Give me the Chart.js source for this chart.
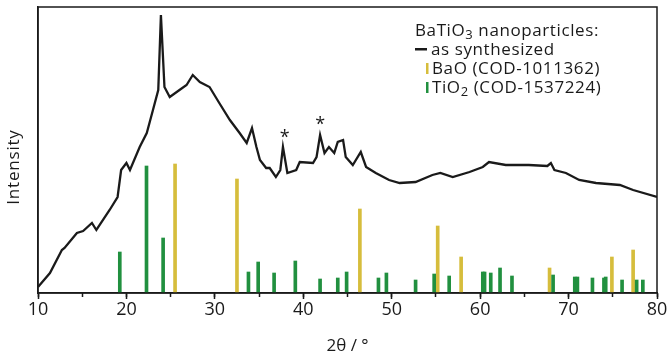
<!DOCTYPE html>
<html>
<head>
<meta charset="utf-8">
<script src="https://cdn.jsdelivr.net/npm/chart.js@4.4.0/dist/chart.umd.min.js"></script>
<style>
  html, body { margin: 0; padding: 0; background: #fff; }
  #wrap { width: 672px; height: 356px; position: relative; }
</style>
</head>
<body>
<div id="wrap"><canvas id="xrd"></canvas></div>
<script>
// measured pattern (2θ in degrees, intensity in arbitrary units)
const twoTheta = [10.0, 11.35, 12.7, 13.0, 14.4, 15.1, 16.1, 16.6, 18.1, 19.0, 19.4, 20.0, 20.4, 21.5, 22.3, 23.0, 23.6, 23.9, 24.3, 24.9,
  26.0, 26.8, 27.5, 28.3, 29.4, 30.5, 31.7, 32.8, 33.6, 34.2, 34.7, 35.1, 35.8, 36.2, 36.9, 37.4, 37.7, 38.2, 39.2, 39.6,
  41.1, 41.5, 41.9, 42.4, 42.9, 43.5, 43.9, 44.5, 44.8, 45.6, 46.5, 47.1, 48.2, 49.7, 50.9, 52.7, 54.6, 55.5, 56.9, 58.8,
  60.3, 61.0, 62.9, 65.5, 67.6, 68.0, 68.4, 69.7, 71.2, 73.1, 75.8, 77.3, 80.0];
const intensity = [6, 20, 43, 45, 60, 62, 70, 63, 83, 96, 123, 130, 123, 146, 160, 183, 203, 278, 206, 196,
  203, 208, 218, 211, 206, 190, 173, 160, 150, 165, 146, 133, 125, 125, 116, 123, 146, 120, 123, 131,
  130, 136, 158, 140, 146, 140, 151, 153, 136, 128, 141, 126, 120, 113, 110, 111, 118, 120, 116, 121,
  126, 131, 128, 128, 127, 130, 123, 120, 113, 110, 108, 103, 96];

// reference patterns
const baoPos = [25.5, 32.5, 46.4, 55.2, 57.85, 67.85, 74.9, 77.3];
const baoInt = [129, 114, 84, 67, 36, 25, 36, 43];
const tio2Pos = [19.25, 22.27, 24.15, 33.8, 34.9, 36.7, 39.1, 41.9, 43.9, 44.9, 48.5, 49.4, 52.7, 54.8, 56.5,
  60.3, 60.5, 61.2, 62.25, 63.6, 68.25, 70.7, 71.0, 72.7, 74.0, 74.2, 76.05, 77.7, 78.4];
const tio2Int = [41, 127, 55, 21, 31, 20, 32, 14, 15, 21, 15, 20, 13, 19, 17,
  21, 21, 20, 25, 17, 18, 16, 16, 15, 15, 16, 13, 13, 13];

// asterisk markers (position of the star glyph)
const starPos = [37.9, 41.9];
const starInt = [155, 168];

const FONT = '"Open Sans", "Noto Sans", sans-serif';
const INK = '#1a1a1a';
const BAO_COLOR = '#d6bd3c';
const TIO2_COLOR = '#21903f';

const toPoints = (xs, ys) => xs.map((x, i) => ({ x: x, y: ys[i] }));

// frame, y title, asterisks and legend drawn after the chart
const extras = {
  id: 'extras',
  afterDraw(chart) {
    const ctx = chart.ctx;
    const a = chart.chartArea;
    const xs = chart.scales.x, ys = chart.scales.y;
    ctx.save();
    ctx.strokeStyle = INK;
    ctx.lineWidth = 1.5;
    ctx.strokeRect(a.left, a.top, a.right - a.left, a.bottom - a.top);

    ctx.fillStyle = INK;
    ctx.letterSpacing = '0.8px';
    ctx.font = '17px ' + FONT;
    ctx.textAlign = 'center';
    ctx.textBaseline = 'middle';
    ctx.save();
    ctx.translate(a.left - 24, a.top + 160);
    ctx.rotate(-Math.PI / 2);
    ctx.fillText('Intensity', 0, 0);
    ctx.restore();

    ctx.letterSpacing = '0px';
    ctx.font = '18px ' + FONT;
    starPos.forEach((p, i) => {
      ctx.fillText('*', xs.getPixelForValue(p), ys.getPixelForValue(starInt[i]));
    });

    // legend
    ctx.letterSpacing = '0.6px';
    const lx = a.right - 242;
    const ly = a.top + 29;
    const big = '17px ' + FONT, sub = '13px ' + FONT;
    ctx.textAlign = 'left';
    ctx.textBaseline = 'alphabetic';
    const drawParts = (parts, x, y) => {
      parts.forEach(([t, s]) => {
        ctx.font = s ? sub : big;
        ctx.fillText(t, x, s ? y + 3 : y);
        x += ctx.measureText(t).width;
      });
    };
    drawParts([['BaTiO', 0], ['3', 1], [' nanoparticles:', 0]], lx, ly);
    ctx.fillRect(lx, ly + 12, 12, 2.5);
    drawParts([['as synthesized', 0]], lx + 16, ly + 19);
    ctx.fillStyle = BAO_COLOR;
    ctx.fillRect(lx + 11, ly + 27, 2.5, 11);
    ctx.fillStyle = INK;
    drawParts([['BaO (COD-1011362)', 0]], lx + 17, ly + 38);
    ctx.fillStyle = TIO2_COLOR;
    ctx.fillRect(lx + 11, ly + 46, 2.5, 11);
    ctx.fillStyle = INK;
    drawParts([['TiO', 0], ['2', 1], [' (COD-1537224)', 0]], lx + 17, ly + 57);
    ctx.restore();
  }
};

new Chart(document.getElementById('xrd'), {
  type: 'line',
  data: {
    datasets: [
      {
        type: 'line',
        label: 'as synthesized',
        data: toPoints(twoTheta, intensity),
        borderColor: INK,
        borderWidth: 2.3,
        pointRadius: 0,
        tension: 0,
        order: 0
      },
      {
        type: 'bar',
        label: 'BaO (COD-1011362)',
        data: toPoints(baoPos, baoInt),
        backgroundColor: BAO_COLOR,
        barThickness: 3,
        grouped: false,
        order: 2
      },
      {
        type: 'bar',
        label: 'TiO2 (COD-1537224)',
        data: toPoints(tio2Pos, tio2Int),
        backgroundColor: TIO2_COLOR,
        barThickness: 3,
        grouped: false,
        order: 1
      }
    ]
  },
  options: {
    responsive: true,
    maintainAspectRatio: false,
    animation: false,
    events: [],
    layout: { padding: { top: 7, right: 15, left: 0, bottom: 0 } },
    plugins: { legend: { display: false }, tooltip: { enabled: false } },
    scales: {
      x: {
        type: 'linear',
        position: 'bottom',
        weight: 1,
        min: 10,
        max: 80,
        offset: false,
        ticks: { stepSize: 10, color: INK, font: { family: FONT, size: 18 }, padding: 0, maxRotation: 0 },
        grid: { drawOnChartArea: false, offset: false, tickLength: 6, tickWidth: 1.5, tickColor: INK },
        border: { color: INK, width: 1.5 },
        title: { display: true, text: '2θ / °', color: INK, font: { family: FONT, size: 17 }, padding: { top: 5, bottom: 0 } },
        afterFit(s) { s.height = 63; }
      },
      xMinor: {
        type: 'linear',
        position: 'bottom',
        weight: 0,
        min: 10,
        max: 80,
        offset: false,
        ticks: { display: false, stepSize: 5 },
        grid: { drawOnChartArea: false, offset: false, tickLength: 4, tickWidth: 1.5, tickColor: INK },
        border: { display: false },
        afterFit(s) { s.height = 0; }
      },
      y: {
        min: 0,
        max: 286,
        ticks: { display: false },
        grid: { drawOnChartArea: false, drawTicks: false },
        border: { color: INK, width: 1.5 },
        afterFit(s) { s.width = 38; }
      }
    }
  },
  plugins: [extras]
});
</script>
</body>
</html>
